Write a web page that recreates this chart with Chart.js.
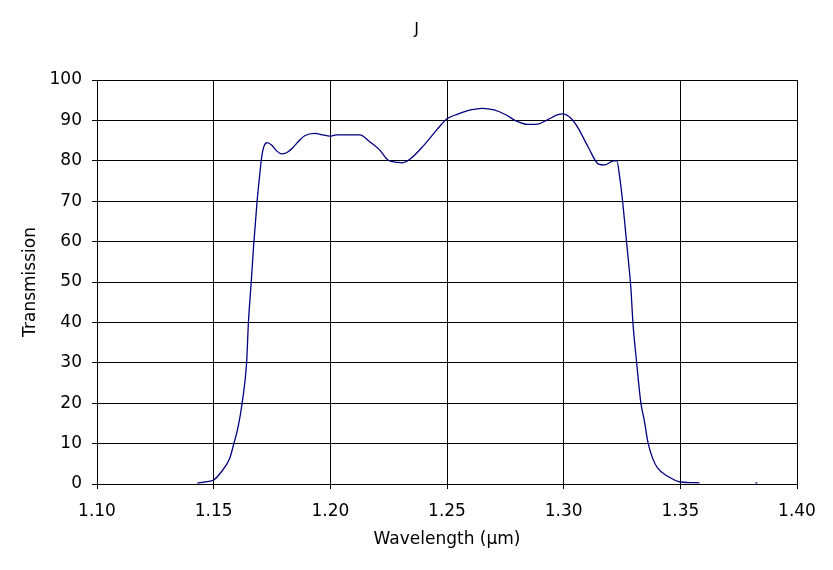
<!DOCTYPE html>
<html>
<head>
<meta charset="utf-8">
<script src="https://cdn.jsdelivr.net/npm/chart.js@4.4.1/dist/chart.umd.min.js"></script>
<style>
  html, body { margin: 0; padding: 0; background: #fff; }
  #wrap { width: 833px; height: 570px; }
</style>
</head>
<body>
<div id="wrap"><canvas id="filterChart" width="833" height="570"></canvas></div>
<script>
// J band filter curve
const wavelengths = [
    1.1430, 1.1470, 1.1500, 1.1527, 1.1569, 1.1586, 1.1605, 1.1622, 1.1641, 1.1649,
    1.1661, 1.1672, 1.1686, 1.1698, 1.1706, 1.1715, 1.1729, 1.1748, 1.1769, 1.1791,
    1.1812, 1.1840, 1.1862, 1.1890, 1.1933, 1.1969, 1.1997, 1.2026, 1.2126, 1.2169,
    1.2211, 1.2247, 1.2290, 1.2305, 1.2341, 1.2399, 1.2457, 1.2500, 1.2543, 1.2601,
    1.2651, 1.2702, 1.2752, 1.2795, 1.2846, 1.2889, 1.2932, 1.2976, 1.2997, 1.3033,
    1.3062, 1.3106, 1.3149, 1.3177, 1.3214, 1.3228, 1.3240, 1.3252, 1.3262, 1.3270,
    1.3280, 1.3288, 1.3297, 1.3313, 1.3331, 1.3345, 1.3362, 1.3381, 1.3403, 1.3446,
    1.3500, 1.3582, 1.3700, 1.3822, 1.3830
];
const transmission = [
    0.2, 0.6, 1.0, 2.6, 6.4, 9.9, 14.2, 20.0, 29.9, 40.0,
    50.0, 59.6, 69.9, 76.9, 81.0, 83.5, 84.5, 83.9, 82.5, 81.7,
    82.0, 83.3, 84.7, 86.2, 86.8, 86.4, 86.1, 86.4, 86.4, 84.7,
    82.7, 80.2, 79.6, 79.5, 80.4, 83.7, 87.7, 90.4, 91.5, 92.6,
    93.0, 92.6, 91.4, 89.9, 89.0, 89.1, 90.2, 91.4, 91.6, 90.4,
    88.1, 83.3, 79.2, 79.0, 80.0, 80.0, 76.0, 70.3, 64.5, 59.6,
    53.8, 48.5, 39.8, 29.9, 20.0, 15.9, 10.1, 6.4, 3.9, 1.9,
    0.5, 0.3, null, 0.3, 0.3
];

const xTickStart = 1.10, xTickEnd = 1.40, xTickStep = 0.05;
const yTickStart = 0, yTickEnd = 100, yTickStep = 10;
const chartTitle = 'J';

const points = wavelengths.map((w, i) => ({ x: w, y: transmission[i] }));

const fontFamily = '"DejaVu Sans", Verdana, sans-serif';

// title centred on the whole canvas, not on the plot area
const pageTitle = {
    id: 'pageTitle',
    afterDraw(chart) {
        const c = chart.ctx;
        c.save();
        c.fillStyle = '#000';
        c.font = '16px ' + fontFamily;
        c.textAlign = 'center';
        c.textBaseline = 'middle';
        c.fillText(chartTitle, chart.width / 2, 30);
        c.restore();
    }
};

const ctx = document.getElementById('filterChart').getContext('2d');
new Chart(ctx, {
    type: 'line',
    data: {
        datasets: [{
            label: chartTitle,
            data: points,
            borderColor: '#000080',
            borderWidth: 1.3,
            pointRadius: 0,
            fill: false,
            spanGaps: false,
            cubicInterpolationMode: 'monotone'
        }]
    },
    plugins: [pageTitle],
    options: {
        responsive: false,
        animation: false,
        layout: {
            padding: { left: 0, right: 36, top: 80, bottom: 0 }
        },
        plugins: {
            legend: { display: false },
            tooltip: { enabled: false },
            title: { display: false }
        },
        scales: {
            x: {
                type: 'linear',
                min: xTickStart,
                max: xTickEnd,
                afterFit: (scale) => { scale.height = 86; },
                ticks: {
                    stepSize: xTickStep,
                    color: '#000',
                    font: { family: fontFamily, size: 17 },
                    padding: 12,
                    maxRotation: 0,
                    callback: (v) => v.toFixed(2)
                },
                grid: {
                    color: '#000',
                    lineWidth: 1,
                    tickLength: 5
                },
                border: { color: '#000', width: 1 },
                title: {
                    display: true,
                    text: 'Wavelength (\u00b5m)',
                    color: '#000',
                    font: { family: fontFamily, size: 17 },
                    padding: { top: 0, bottom: 20 }
                }
            },
            y: {
                min: yTickStart,
                max: yTickEnd,
                afterFit: (scale) => { scale.width = 97; },
                ticks: {
                    stepSize: yTickStep,
                    color: '#000',
                    font: { family: fontFamily, size: 17 },
                    padding: 10
                },
                grid: {
                    color: '#000',
                    lineWidth: 1,
                    tickLength: 5
                },
                border: { color: '#000', width: 1 },
                title: {
                    display: true,
                    text: 'Transmission',
                    color: '#000',
                    font: { family: fontFamily, size: 17 },
                    padding: { top: 20, bottom: 0 }
                }
            }
        }
    }
});
</script>
</body>
</html>
